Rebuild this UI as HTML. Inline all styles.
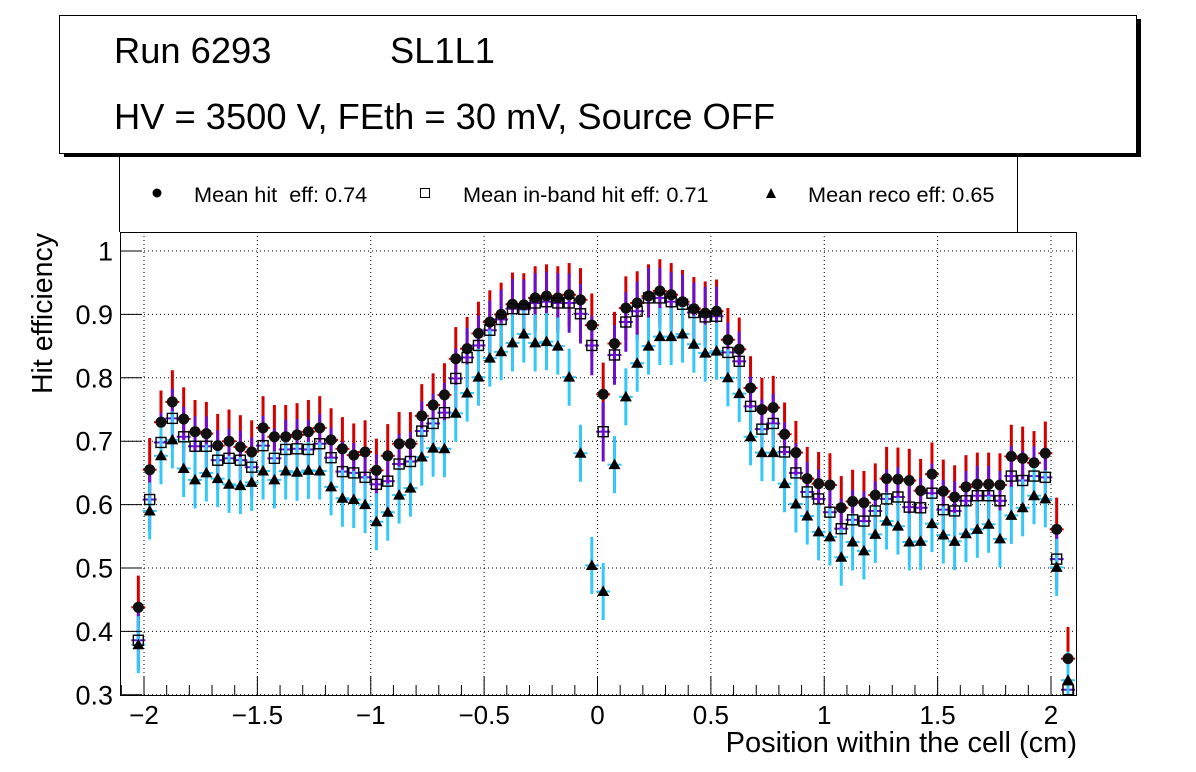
<!DOCTYPE html>
<html><head><meta charset="utf-8"><style>
html,body{margin:0;padding:0;background:#fff;}
svg{display:block;font-family:"Liberation Sans",Arial,sans-serif;}
text{white-space:pre;}
</style></head><body>
<svg id="chart" width="1196" height="772" viewBox="0 0 1196 772" xmlns="http://www.w3.org/2000/svg">
<rect x="0" y="0" width="1196" height="772" fill="#fff"/>
<g>
<line x1="119.5" y1="150" x2="119.5" y2="232" stroke="#000" stroke-width="1"/>
<line x1="1017.5" y1="150" x2="1017.5" y2="232" stroke="#000" stroke-width="1"/>
<circle cx="157" cy="193" r="4.5" fill="#000"/>
<text x="194" y="202" font-size="21.7" xml:space="preserve">Mean hit  eff: 0.74</text>
<rect x="420.5" y="188.5" width="9" height="9" fill="none" stroke="#000" stroke-width="1"/>
<text x="463" y="202" font-size="21.7">Mean in-band hit eff: 0.71</text>
<polygon points="771,188 766,198 776,198" fill="#000"/>
<text x="808" y="202" font-size="21.7">Mean reco eff: 0.65</text>
</g>
<g>
<rect x="64" y="19" width="1077" height="138" fill="#000"/>
<rect x="59.5" y="15.5" width="1077" height="138" fill="#fff" stroke="#000" stroke-width="1"/>
<text x="114" y="63" font-size="36.3">Run 6293</text>
<text x="390" y="63" font-size="36.3">SL1L1</text>
<text x="114" y="129" font-size="36.3">HV = 3500 V, FEth = 30 mV, Source OFF</text>
</g>
<g id="grid"></g>
<g id="marks"></g>
<g id="axes"></g>
<text transform="translate(52,233) rotate(-90)" text-anchor="end" font-size="28.5">Hit efficiency</text>
<text x="1077" y="752" text-anchor="end" font-size="29">Position within the cell (cm)</text>
</svg>
<script>
var xStart = -2.025, xStep = 0.05;
var hitEff = [0.438,0.655,0.730,0.762,0.735,0.715,0.712,0.693,0.700,0.691,0.683,0.721,0.707,0.707,0.710,0.715,0.721,0.702,0.688,0.678,0.683,0.654,0.677,0.696,0.696,
0.740,0.757,0.773,0.830,0.846,0.870,0.888,0.900,0.916,0.915,0.926,0.929,0.926,0.931,0.923,0.883,0.774,0.854,0.910,0.918,0.929,0.937,0.931,0.920,0.909,
0.902,0.905,0.860,0.845,0.784,0.750,0.753,0.711,0.682,0.641,0.633,0.631,0.595,0.605,0.603,0.615,0.641,0.640,0.638,0.622,0.648,0.621,0.612,0.628,0.632,0.632,0.631,0.676,0.673,0.666,0.681,0.561,0.357];
var inbandEff = [0.386,0.608,0.698,0.736,0.707,0.692,0.692,0.670,0.673,0.670,0.659,0.693,0.673,0.687,0.688,0.687,0.696,0.674,0.652,0.650,0.643,0.632,0.637,0.664,0.668,
0.716,0.728,0.745,0.799,0.832,0.851,0.875,0.892,0.909,0.908,0.918,0.920,0.918,0.918,0.901,0.851,0.715,0.836,0.888,0.905,0.926,0.926,0.920,0.916,0.903,
0.896,0.897,0.840,0.826,0.755,0.719,0.728,0.683,0.650,0.620,0.609,0.588,0.562,0.576,0.574,0.590,0.609,0.612,0.596,0.595,0.618,0.592,0.590,0.606,0.614,0.614,0.606,0.645,0.638,0.645,0.643,0.514,0.308];
var recoEff = [0.379,0.590,0.677,0.702,0.657,0.639,0.650,0.641,0.632,0.630,0.635,0.653,0.639,0.653,0.651,0.654,0.653,0.628,0.610,0.608,0.600,0.573,0.588,0.615,0.626,
0.675,0.689,0.688,0.744,0.776,0.801,0.831,0.841,0.855,0.869,0.855,0.857,0.850,0.801,0.681,0.504,0.463,0.663,0.770,0.823,0.850,0.865,0.865,0.869,0.853,
0.839,0.842,0.800,0.775,0.707,0.682,0.682,0.633,0.601,0.582,0.557,0.549,0.517,0.541,0.527,0.553,0.574,0.566,0.541,0.542,0.570,0.552,0.542,0.554,0.561,0.569,0.546,0.583,0.595,0.614,0.609,0.501,0.323];
var hitErr = 0.050, inbandErr = 0.047, recoErr = 0.045;
var xTicks = [-2,-1.5,-1,-0.5,0,0.5,1,1.5,2];
var xTickLabels = ["\u22122","\u22121.5","\u22121","\u22120.5","0","0.5","1","1.5","2"];
var yTicks = [0.3,0.4,0.5,0.6,0.7,0.8,0.9,1];
var yTickLabels = ["0.3","0.4","0.5","0.6","0.7","0.8","0.9","1"];

var L=120, R=1077, T=232, B=695;
function X(v){ return 597.5 + v*226.75; }
function Y(v){ return 251 + (1-v)*634; }
var NS="http://www.w3.org/2000/svg";
function mk(tag, parent, attrs){ var e=document.createElementNS(NS,tag); for(var k in attrs) e.setAttribute(k,attrs[k]); parent.appendChild(e); return e; }
var grid=document.getElementById('grid'), marks=document.getElementById('marks'), axes=document.getElementById('axes');
xTicks.forEach(function(t){
  var g=mk('line',grid,{x1:X(t),x2:X(t),y1:T,y2:B,stroke:'#000','stroke-width':1,'stroke-dasharray':'1,3'});
  
  
});
yTicks.forEach(function(t){
  var g=mk('line',grid,{x1:L,x2:R,y1:Y(t),y2:Y(t),stroke:'#000','stroke-width':1,'stroke-dasharray':'1,3'});
  
  
});
var series=[{v:hitEff,e:hitErr,c:'#d40000',n:'hit'},{v:inbandEff,e:inbandErr,c:'#6a0fd0',n:'inband'},{v:recoEff,e:recoErr,c:'#33c8f8',n:'reco'}];
series.forEach(function(s){
  s.v.forEach(function(v,i){
    var x=X(xStart+i*xStep);
    var y1=Math.max(T,Y(v+s.e)), y2=Math.min(B,Y(v-s.e));
    var l=mk('line',marks,{x1:x,x2:x,y1:y1,y2:y2,stroke:s.c,'stroke-width':3});
    
    
    var h=mk('line',marks,{x1:x-7,x2:x+7,y1:Y(v),y2:Y(v),stroke:s.c,'stroke-width':2});
    
    
  });
});
series.forEach(function(s){
  s.v.forEach(function(v,i){
    var x=X(xStart+i*xStep), y=Y(v), m;
    if(y>B+6) return;
    if(s.n==='hit') m=mk('circle',marks,{cx:x,cy:y,r:5.5,fill:'#111'});
    else if(s.n==='inband') m=mk('rect',marks,{x:x-5,y:y-5,width:10,height:10,fill:'none',stroke:'#000','stroke-width':1.4});
    else m=mk('polygon',marks,{points:(x)+','+(y-6)+' '+(x-6)+','+(y+4.5)+' '+(x+6)+','+(y+4.5),fill:'#000'});
    
    
  });
});
var fr=mk('rect',axes,{x:L+0.5,y:T+0.5,width:R-L-1,height:B-T,fill:'none',stroke:'#000','stroke-width':1});


for(var k=-21;k<=21;k++){
  var v=k/10, major=(k%5===0), x=X(v);
  if(x<L||x>R) continue;
  var t=mk('line',axes,{x1:x,x2:x,y1:B,y2:B-(major?19:10),stroke:'#000','stroke-width':1});
  
  
}
xTicks.forEach(function(t,i){
  var tx=mk('text',axes,{x:X(t),y:724,'text-anchor':'middle','font-size':26});
  tx.textContent=xTickLabels[i];
  
  
});
yTicks.forEach(function(t,i){
  var tk=mk('line',axes,{x1:L,x2:L+22,y1:Y(t),y2:Y(t),stroke:'#000','stroke-width':1});
  
  
  var tx=mk('text',axes,{x:113,y:Y(t)+9.5,'text-anchor':'end','font-size':27});
  tx.textContent=yTickLabels[i];
  
  
});
</script>
</body></html>
